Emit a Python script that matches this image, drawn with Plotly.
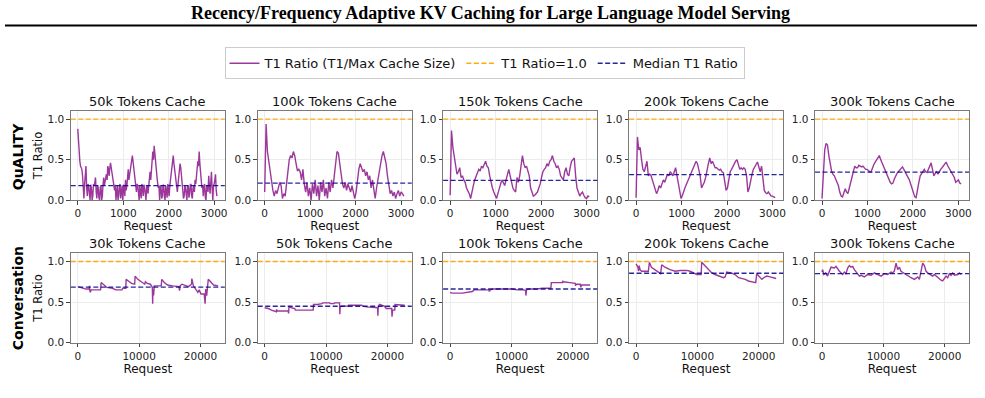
import plotly.graph_objects as go

W, H = 985, 398

# ---------------- data ----------------
quality_caches = ["50k", "100k", "150k", "200k", "300k"]
conv_caches = ["30k", "50k", "100k", "200k", "300k"]

q50_req = list(range(0, 3061, 15))
quality_req = list(range(0, 3061, 30))

q50_ratio = [0.88,0.72,0.60,0.48,0.42,0.40,0.38,0.30,0.12,0.02,
             0.20,0.35,0.42,0.15,0.05,0.20,0.18,0.08,0.00,0.19,
             0.15,0.00,0.05,0.20,0.18,0.22,0.28,0.10,0.02,0.18,
             0.15,0.03,0.00,0.16,0.18,0.00,0.05,0.19,0.28,0.18,
             0.22,0.30,0.32,0.25,0.42,0.38,0.30,0.40,0.46,0.40,
             0.35,0.30,0.25,0.18,0.12,0.19,0.00,0.10,0.18,0.00,
             0.05,0.17,0.20,0.02,0.10,0.18,0.00,0.19,0.15,0.05,
             0.25,0.12,0.18,0.28,0.38,0.25,0.30,0.40,0.45,0.50,
             0.55,0.48,0.42,0.36,0.28,0.18,0.10,0.20,0.18,0.04,
             0.00,0.18,0.12,0.02,0.20,0.16,0.05,0.19,0.15,0.02,
             0.00,0.16,0.18,0.08,0.20,0.28,0.35,0.25,0.42,0.52,
             0.60,0.50,0.67,0.58,0.45,0.40,0.30,0.22,0.15,0.18,
             0.00,0.17,0.18,0.02,0.05,0.19,0.18,0.04,0.00,0.18,
             0.12,0.03,0.20,0.15,0.05,0.18,0.25,0.30,0.40,0.48,
             0.55,0.45,0.38,0.30,0.22,0.15,0.10,0.20,0.32,0.38,
             0.45,0.40,0.30,0.22,0.18,0.02,0.05,0.18,0.15,0.04,
             0.00,0.17,0.18,0.03,0.08,0.19,0.20,0.05,0.02,0.15,
             0.18,0.10,0.25,0.20,0.30,0.38,0.48,0.42,0.60,0.45,
             0.35,0.22,0.15,0.18,0.05,0.17,0.20,0.03,0.00,0.17,
             0.18,0.10,0.30,0.18,0.08,0.22,0.35,0.15,0.00,0.18,
             0.20,0.25,0.32,0.12,0.05]
q100_ratio = [0.10,0.94,0.60,0.48,0.35,0.22,0.12,0.05,0.12,0.08,
              0.15,0.22,0.18,0.02,0.08,0.05,0.20,0.38,0.50,0.55,
              0.52,0.60,0.55,0.45,0.36,0.38,0.35,0.25,0.38,0.20,
              0.10,0.22,0.05,0.15,0.00,0.20,0.08,0.25,0.05,0.18,
              0.00,0.22,0.10,0.25,0.05,0.15,0.02,0.22,0.10,0.25,
              0.15,0.30,0.45,0.60,0.58,0.45,0.35,0.20,0.15,0.22,
              0.12,0.20,0.15,0.10,0.18,0.08,0.02,0.10,0.25,0.38,
              0.45,0.40,0.35,0.38,0.30,0.35,0.25,0.30,0.15,0.25,
              0.10,0.02,0.15,0.25,0.38,0.45,0.55,0.60,0.52,0.45,
              0.30,0.15,0.08,0.12,0.05,0.10,0.02,0.08,0.12,0.05,
              0.10,0.08,0.05]
q150_ratio = [0.06,0.86,0.65,0.55,0.45,0.32,0.35,0.40,0.28,0.30,
              0.25,0.22,0.15,0.12,0.08,0.02,0.12,0.18,0.25,0.30,
              0.35,0.38,0.36,0.42,0.40,0.45,0.48,0.42,0.40,0.30,
              0.20,0.15,0.10,0.05,0.02,0.08,0.15,0.20,0.25,0.22,
              0.18,0.25,0.32,0.38,0.30,0.22,0.15,0.12,0.10,0.28,
              0.22,0.30,0.45,0.55,0.45,0.40,0.42,0.35,0.30,0.15,
              0.10,0.05,0.06,0.08,0.10,0.15,0.20,0.28,0.35,0.38,
              0.40,0.45,0.42,0.48,0.50,0.55,0.48,0.45,0.40,0.42,
              0.38,0.30,0.28,0.25,0.35,0.40,0.32,0.30,0.40,0.48,
              0.50,0.52,0.30,0.15,0.10,0.05,0.08,0.10,0.06,0.03,
              0.02,0.05,0.04]
q200_ratio = [0.03,0.78,0.62,0.65,0.50,0.38,0.35,0.42,0.48,0.30,
              0.32,0.30,0.25,0.18,0.15,0.08,0.12,0.18,0.15,0.20,
              0.25,0.22,0.28,0.32,0.30,0.35,0.33,0.30,0.35,0.40,
              0.30,0.20,0.12,0.02,0.06,0.12,0.16,0.20,0.25,0.28,
              0.32,0.36,0.40,0.42,0.48,0.45,0.38,0.30,0.15,0.18,
              0.22,0.28,0.38,0.45,0.52,0.45,0.48,0.44,0.40,0.40,
              0.38,0.37,0.38,0.35,0.34,0.20,0.12,0.15,0.28,0.35,
              0.38,0.42,0.45,0.48,0.50,0.45,0.38,0.40,0.38,0.40,
              0.38,0.30,0.10,0.15,0.25,0.32,0.38,0.42,0.44,0.47,
              0.40,0.35,0.42,0.25,0.12,0.09,0.08,0.10,0.08,0.05,
              0.05,0.04,0.03]
q300_ratio = [0.02,0.40,0.62,0.70,0.68,0.55,0.45,0.36,0.32,0.30,
              0.26,0.22,0.18,0.10,0.05,0.04,0.08,0.14,0.10,0.08,
              0.15,0.22,0.28,0.35,0.42,0.40,0.40,0.43,0.42,0.41,
              0.42,0.40,0.38,0.38,0.36,0.35,0.35,0.40,0.44,0.47,
              0.50,0.53,0.55,0.50,0.46,0.42,0.38,0.33,0.28,0.25,
              0.22,0.20,0.21,0.26,0.30,0.33,0.35,0.37,0.40,0.41,
              0.38,0.35,0.32,0.28,0.25,0.20,0.14,0.08,0.04,0.03,
              0.15,0.22,0.30,0.33,0.36,0.38,0.35,0.34,0.38,0.42,
              0.46,0.38,0.30,0.33,0.35,0.32,0.36,0.38,0.40,0.42,
              0.45,0.47,0.43,0.40,0.36,0.33,0.30,0.28,0.22,0.24,
              0.25,0.21,0.20]

c30_req = [0,515,927,1339,1854,1905,1957,2060,2163,2678,3708,3811,4120,4532,4738,
           5665,6180,7210,7313,7828,7880,8240,8755,9270,9352,9785,10300,10918,11021,11330,
           11845,12154,12206,12257,12360,12463,13596,13699,14111,14626,15450,16480,16583,16686,16995,
           17510,18025,18540,18592,18849,19158,19570,19776,20085,20600,20755,20858,21012,21270,21630,
           22145,22866]
c30_ratio = [0.69,0.68,0.67,0.66,0.66,0.70,0.64,0.62,0.65,0.65,0.65,0.74,0.72,0.70,0.68,
             0.67,0.65,0.65,0.67,0.67,0.78,0.76,0.73,0.72,0.82,0.78,0.75,0.72,0.75,0.73,
             0.72,0.68,0.48,0.66,0.58,0.70,0.70,0.78,0.74,0.71,0.70,0.69,0.64,0.70,0.72,
             0.70,0.69,0.72,0.79,0.70,0.66,0.62,0.65,0.60,0.60,0.48,0.66,0.58,0.78,0.75,
             0.71,0.70]
c50_req = [0,600,1100,1700,1900,1950,2000,3000,3800,3900,3950,4400,4900,5000,7900,
           7950,8600,9300,9500,10600,10700,11300,11400,12200,12250,12300,12500,13600,13650,15800,
           16000,16600,18400,18450,18500,18700,19500,19800,20700,20750,20850,21200,21250,22800]
c50_ratio = [0.43,0.42,0.40,0.38,0.38,0.41,0.39,0.39,0.39,0.36,0.44,0.43,0.42,0.40,0.40,
             0.47,0.47,0.48,0.49,0.49,0.48,0.48,0.49,0.49,0.35,0.44,0.45,0.45,0.46,0.46,
             0.45,0.44,0.43,0.33,0.43,0.47,0.45,0.42,0.42,0.32,0.40,0.40,0.47,0.46]
c100_req = [0,300,2000,3000,3600,3800,3900,5000,6300,6400,6500,7000,9000,10000,11000,
            12000,12300,12350,12450,12700,14000,15000,16300,16400,16500,17500,18300,18350,18450,19500,
            20400,20450,20550,21200,21300,21400,22000,22800]
c100_ratio = [0.62,0.61,0.61,0.62,0.63,0.64,0.65,0.65,0.65,0.63,0.65,0.66,0.66,0.66,0.65,
              0.65,0.64,0.58,0.65,0.66,0.66,0.67,0.67,0.66,0.74,0.74,0.74,0.76,0.75,0.74,
              0.73,0.70,0.72,0.72,0.68,0.71,0.71,0.71]
c200_req = [0,150,300,400,500,650,900,2000,2170,2500,3100,3900,4000,4180,4700,
            5540,6360,7170,8260,8800,9350,9890,10430,10600,10700,11250,11800,12340,12880,13420,
            14240,14510,14780,15500,16140,16700,17230,17800,18300,19130,19400,19500,19670,20000,20500,
            20800,21300,21850,22660,22830]
c200_ratio = [0.97,0.95,0.93,0.88,0.95,0.90,0.88,0.88,0.99,0.93,0.90,0.86,0.85,0.96,0.93,
              0.90,0.88,0.89,0.89,0.88,0.86,0.84,0.84,0.84,0.99,0.95,0.90,0.86,0.84,0.82,
              0.80,0.81,0.87,0.86,0.84,0.80,0.79,0.78,0.76,0.75,0.74,0.74,0.85,0.82,0.78,
              0.80,0.82,0.81,0.79,0.79]
c300_req = [0,100,300,600,900,1200,1470,2000,2280,2830,3370,3640,3910,4180,4460,
            4730,5000,5270,5540,5820,6090,6360,6900,7450,7990,8530,9080,9620,10160,10700,
            11250,11520,11790,12070,12340,12610,12880,13420,13970,14510,15050,15600,15870,16140,16410,
            16680,16960,17230,17770,18040,18320,18860,19400,19670,19950,20220,20490,20760,21030,21300,
            21580,22120,22390,22660]
c300_ratio = [0.87,0.90,0.84,0.86,0.82,0.88,0.93,0.92,0.94,0.88,0.84,0.87,0.85,0.92,0.95,
              0.93,0.94,0.90,0.87,0.84,0.82,0.83,0.81,0.84,0.83,0.86,0.84,0.82,0.85,0.84,
              0.87,0.86,0.88,0.98,0.90,0.93,0.88,0.85,0.83,0.80,0.78,0.81,0.78,0.90,0.98,
              0.95,0.88,0.86,0.84,0.82,0.84,0.80,0.77,0.76,0.79,0.82,0.80,0.85,0.83,0.86,
              0.83,0.84,0.86,0.84]

quality_series = [(q50_req, q50_ratio), (quality_req, q100_ratio), (quality_req, q150_ratio),
                  (quality_req, q200_ratio), (quality_req, q300_ratio)]
conv_series = [(c30_req, c30_ratio), (c50_req, c50_ratio), (c100_req, c100_ratio),
               (c200_req, c200_ratio), (c300_req, c300_ratio)]
quality_medians = [0.18, 0.21, 0.245, 0.315, 0.345]
conv_medians = [0.685, 0.448, 0.661, 0.855, 0.851]
reference_ratio = 1.0

row_labels = ["QuALITY", "Conversation"]
paper_title = "Recency/Frequency Adaptive KV Caching for Large Language Model Serving"

# ---------------- layout geometry (px) ----------------
col_left = [71, 258.5, 444.5, 631, 817.5]
plot_w = 154.5
row_top = [112.7, 257.3]
plot_h = 90.5

LINE_COLOR = "rgba(128,0,128,0.78)"
ORANGE = "rgba(255,165,0,0.95)"
NAVY = "rgba(0,0,139,0.85)"
FONT = "DejaVu Sans"
DASH = "5px,2.5px"

fig = go.Figure()
layout_axes = {}
annotations = []
shapes = []

k = 0
for r in range(2):
    for c in range(5):
        k += 1
        xa = "x" if k == 1 else f"x{k}"
        ya = "y" if k == 1 else f"y{k}"
        xname = "xaxis" if k == 1 else f"xaxis{k}"
        yname = "yaxis" if k == 1 else f"yaxis{k}"
        l = col_left[c]
        t = row_top[r]
        if r == 0:
            xs, ys = quality_series[c]
            med = quality_medians[c]
            xr = [-154, 3234]
            tv = [0, 1000, 2000, 3000]
            title = f"{quality_caches[c]} Tokens Cache"
        else:
            xs, ys = conv_series[c]
            med = conv_medians[c]
            xr = [-1141, 23967]
            tv = [0, 10000, 20000]
            title = f"{conv_caches[c]} Tokens Cache"
        fig.add_trace(go.Scatter(
            x=xs, y=ys, mode="lines", xaxis=xa, yaxis=ya,
            line=dict(color=LINE_COLOR, width=1.4),
            name="T1 Ratio (T1/Max Cache Size)",
            legendgroup="t1", showlegend=(k == 1), hoverinfo="skip"))
        common = dict(showline=True, linecolor="#7a7a7a", linewidth=1, mirror=True,
                      ticks="outside", ticklen=3.5, tickwidth=0.8, tickcolor="#444",
                      showgrid=True, gridcolor="#ececec", gridwidth=0.8,
                      zeroline=False, tickfont=dict(family=FONT, size=10.5, color="#222"))
        layout_axes[xname] = dict(
            domain=[l / W, (l + plot_w) / W], anchor=ya, range=xr,
            tickvals=tv, ticktext=[str(v) for v in tv],
            title=dict(text="Request", font=dict(family=FONT, size=12, color="#111"), standoff=2),
            **common)
        yd = dict(domain=[1 - (t + plot_h) / H, 1 - t / H], anchor=xa, range=[0, 1.1],
                  tickvals=[0, 0.5, 1.0], ticktext=["0.0", "0.5", "1.0"], **common)
        if c == 0:
            yd["title"] = dict(text="T1 Ratio", font=dict(family=FONT, size=11.5, color="#111"), standoff=2)
        layout_axes[yname] = yd
        annotations.append(dict(
            text=title, x=(l + plot_w / 2) / W, y=1 - (t - 9.8) / H,
            xref="paper", yref="paper", xanchor="center", yanchor="middle",
            showarrow=False, font=dict(family=FONT, size=13, color="#111")))
        shapes.append(dict(type="line", xref=f"{xa} domain", yref=ya,
                           x0=0, x1=1, y0=reference_ratio, y1=reference_ratio,
                           line=dict(color=ORANGE, width=1.3, dash=DASH),
                           name="T1 Ratio=1.0", legendgroup="one", showlegend=(k == 1)))
        shapes.append(dict(type="line", xref=f"{xa} domain", yref=ya,
                           x0=0, x1=1, y0=med, y1=med,
                           line=dict(color=NAVY, width=1.3, dash=DASH),
                           name="Median T1 Ratio", legendgroup="med", showlegend=(k == 1)))

# row labels
for i, lab in enumerate(row_labels):
    yc = [158.7, 302.8][i]
    annotations.append(dict(text=f"<b>{lab}</b>", x=18 / W, y=1 - yc / H,
                            xref="paper", yref="paper", xanchor="center", yanchor="middle",
                            textangle=-90, showarrow=False,
                            font=dict(family=FONT, size=14, color="#000")))

# paper header
annotations.append(dict(text=f"<b>{paper_title}</b>", x=492 / W, y=1 - 13.5 / H,
                        xref="paper", yref="paper", xanchor="center", yanchor="middle",
                        showarrow=False,
                        font=dict(family="Liberation Serif", size=18, color="#000")))
shapes.append(dict(type="line", xref="paper", yref="paper", x0=5 / W, x1=980 / W,
                   y0=1 - 26 / H, y1=1 - 26 / H, line=dict(color="#000", width=2)))

fig.update_layout(
    width=W, height=H, margin=dict(l=0, r=0, t=0, b=0),
    paper_bgcolor="white", plot_bgcolor="white",
    font=dict(family=FONT, color="#111"),
    showlegend=True,
    legend=dict(orientation="h", x=486 / W, xanchor="center", y=1 - 48 / H, yanchor="top",
                bordercolor="#cccccc", borderwidth=1, bgcolor="white",
                font=dict(family=FONT, size=13, color="#111")),
    annotations=annotations, shapes=shapes,
    **layout_axes)

fig.write_html("out.html")
